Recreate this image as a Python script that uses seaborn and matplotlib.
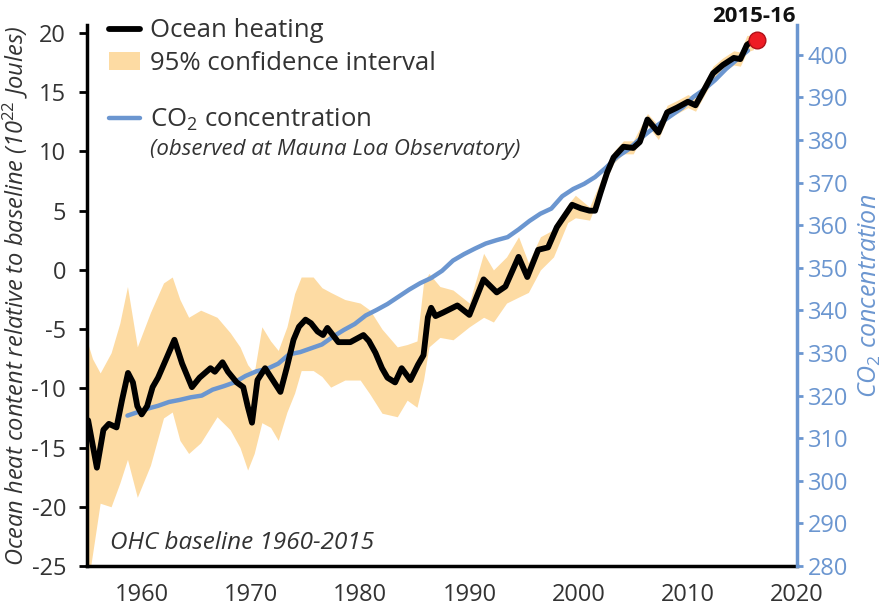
import matplotlib
matplotlib.use("Agg")
import matplotlib.pyplot as plt
import seaborn as sns
import pandas as pd
from matplotlib.lines import Line2D
from matplotlib.patches import Patch

sns.set_theme(style="white")
plt.rcParams['font.family'] = ['Open Sans', 'DejaVu Sans']
plt.rcParams['mathtext.fontset'] = 'custom'
plt.rcParams['mathtext.rm'] = 'Open Sans'
plt.rcParams['mathtext.it'] = 'Open Sans:italic'
plt.rcParams['axes.unicode_minus'] = False

# ocean heat content (10^22 J, relative to 1960-2015 baseline)
ohc_years = [1955.1, 1955.9, 1956.5, 1957.0, 1957.7, 1958.2, 1958.75, 1959.2, 1959.6, 1960.0,
             1960.5, 1961.0, 1961.5, 1962.3, 1963.0, 1963.7, 1964.6, 1965.3, 1966.3, 1966.7,
             1967.4, 1967.9, 1968.7, 1969.3, 1969.7, 1970.1, 1970.6, 1971.3, 1972.0, 1972.7,
             1973.3, 1973.9, 1974.4, 1975.0, 1975.5, 1976.1, 1976.6, 1977.0, 1978.0, 1979.1,
             1980.3, 1980.8, 1981.4, 1982.0, 1982.5, 1983.2, 1983.8, 1984.6, 1985.3, 1985.8,
             1986.2, 1986.5, 1986.9, 1987.6, 1988.9, 1990.0, 1991.3, 1992.5, 1993.3, 1994.5,
             1995.3, 1996.3, 1997.2, 1998.0, 1999.4, 2000.2, 2001.0, 2001.5, 2002.0, 2002.6,
             2003.2, 2004.1, 2005.0, 2005.6, 2006.3, 2007.3, 2008.1, 2009.0, 2010.0, 2010.7,
             2011.6, 2012.3, 2013.2, 2014.2, 2014.8, 2015.4, 2015.9]
ohc_values = [-12.7, -16.7, -13.5, -13.0, -13.3, -11.0, -8.7, -9.5, -11.5, -12.2,
              -11.5, -9.9, -9.1, -7.4, -5.9, -7.9, -9.9, -9.1, -8.3, -8.6,
              -7.8, -8.6, -9.5, -9.9, -11.5, -12.9, -9.3, -8.3, -9.3, -10.3,
              -8.2, -5.9, -4.8, -4.2, -4.5, -5.2, -5.5, -4.9, -6.1, -6.1,
              -5.5, -6.0, -7.0, -8.3, -9.1, -9.5, -8.3, -9.3, -8.0, -7.2,
              -4.0, -3.2, -3.9, -3.6, -3.0, -3.8, -0.8, -1.9, -1.4, 1.1,
              -0.6, 1.7, 1.9, 3.6, 5.5, 5.2, 5.0, 5.0, 6.5, 8.2,
              9.5, 10.4, 10.3, 10.8, 12.7, 11.6, 13.3, 13.7, 14.2, 13.9,
              15.4, 16.6, 17.3, 17.9, 17.8, 19.0, 19.3]

# 95% confidence interval
ci_years = [1955.0, 1955.5, 1956.2, 1957.2, 1958.0, 1958.7, 1959.6, 1960.8, 1962.0, 1962.8,
            1963.5, 1964.3, 1965.4, 1966.9, 1968.1, 1969.0, 1969.7, 1970.3, 1971.0, 1971.8,
            1972.5, 1973.3, 1974.0, 1974.6, 1975.7, 1976.5, 1977.3, 1978.6, 1980.0, 1980.9,
            1982.0, 1983.4, 1984.3, 1985.2, 1985.8, 1986.3, 1987.3, 1988.5, 1990.0, 1991.3,
            1992.2, 1993.4, 1994.5, 1995.4, 1996.5, 1997.7, 1999.0, 1999.7, 2001.0, 2002.0,
            2003.2, 2004.1, 2005.0, 2006.3, 2007.3, 2008.1, 2009.0, 2010.0, 2010.7, 2011.6,
            2012.3, 2013.2, 2014.2, 2014.8, 2015.4, 2016.0]
ci_lower = [-27.0, -24.0, -19.7, -20.0, -18.0, -16.0, -19.2, -16.5, -12.5, -12.0,
            -14.4, -15.5, -14.6, -12.4, -13.5, -15.0, -16.9, -15.5, -12.9, -13.3,
            -14.4, -12.0, -10.4, -8.5, -8.5, -9.0, -9.9, -9.3, -9.3, -10.5,
            -12.1, -12.4, -11.0, -11.6, -9.3, -6.5, -5.7, -5.9, -4.8, -4.0,
            -4.4, -2.8, -2.3, -1.9, 0.0, 1.1, 4.0, 4.4, 4.2, 6.5,
            9.0, 9.8, 9.8, 12.2, 11.0, 12.8, 13.2, 13.7, 13.4, 14.9,
            16.0, 16.7, 17.3, 17.2, 18.4, 18.6]
ci_upper = [-6.0, -7.5, -8.7, -7.0, -4.5, -1.4, -6.5, -3.6, -1.1, -0.6,
            -2.5, -4.0, -3.4, -4.0, -5.3, -6.5, -8.0, -8.7, -4.8, -6.0,
            -6.8, -4.8, -2.0, -0.6, -0.6, -1.5, -1.9, -2.5, -2.8, -3.4,
            -5.0, -6.5, -6.3, -6.0, -1.1, -0.3, -1.4, -1.7, -2.8, 1.4,
            0.0, 1.1, 2.8, 0.6, 2.8, 3.4, 5.5, 6.3, 5.3, 7.5,
            10.0, 10.9, 10.9, 13.2, 12.2, 13.9, 14.3, 14.8, 14.5, 16.0,
            17.2, 17.9, 18.5, 18.4, 19.8, 19.8]

# CO2 at Mauna Loa (ppm)
co2_years = [1958.7, 1959.5, 1960.5, 1961.5, 1962.5, 1963.5, 1964.5, 1965.5, 1966.5, 1967.5,
             1968.5, 1969.5, 1970.5, 1971.5, 1972.5, 1973.5, 1974.5, 1975.5, 1976.5, 1977.5,
             1978.5, 1979.5, 1980.5, 1981.5, 1982.5, 1983.5, 1984.5, 1985.5, 1986.5, 1987.5,
             1988.5, 1989.5, 1990.5, 1991.5, 1992.5, 1993.5, 1994.5, 1995.5, 1996.5, 1997.5,
             1998.5, 1999.5, 2000.5, 2001.5, 2002.5, 2003.5, 2004.5, 2005.5, 2006.5, 2007.5,
             2008.5, 2009.5, 2010.5, 2011.5, 2012.5, 2013.5, 2014.5, 2015.5]
co2_values = [315.3, 316.0, 316.9, 317.6, 318.5, 319.0, 319.6, 320.0, 321.4, 322.2,
              323.1, 324.6, 325.7, 326.3, 327.5, 329.7, 330.2, 331.1, 332.0, 333.8,
              335.4, 336.8, 338.8, 340.1, 341.5, 343.2, 344.9, 346.4, 347.6, 349.3,
              351.7, 353.2, 354.5, 355.7, 356.5, 357.2, 359.0, 361.0, 362.7, 363.9,
              366.8, 368.5, 369.7, 371.3, 373.5, 376.0, 377.7, 380.0, 382.1, 384.0,
              385.8, 387.6, 390.1, 391.9, 394.1, 396.7, 398.9, 401.0]

peak_year = 2016.3
peak_value = 19.4

x_ticks = [1960, 1970, 1980, 1990, 2000, 2010, 2020]
ohc_ticks = [-25, -20, -15, -10, -5, 0, 5, 10, 15, 20]
co2_ticks = list(range(280, 401, 10))

BLACK = '#000000'
BAND = '#FDDBA3'
BLUE = '#6B96D0'
TEXT = '#333333'

ohc_df = pd.DataFrame({'year': ohc_years, 'ohc': ohc_values})
co2_df = pd.DataFrame({'year': co2_years, 'co2': co2_values})

fig = plt.figure(figsize=(8.81, 6.08), dpi=100)
ax = fig.add_axes([0.0988, 0.0691, 0.806, 0.8898])
ax2 = ax.twinx()   # CO2 (right axis)
ax3 = ax.twinx()   # ocean heating line on top

# band
ax.fill_between(ci_years, ci_lower, ci_upper, color=BAND, linewidth=0)

# CO2
sns.lineplot(data=co2_df, x='year', y='co2', ax=ax2, color=BLUE, linewidth=3.2)

# ocean heating
sns.lineplot(data=ohc_df, x='year', y='ohc', ax=ax3, color=BLACK, linewidth=4.2)
ax3.plot([peak_year], [peak_value], 'o', color='#EE1C24', markeredgecolor='#B01018',
         markersize=12, markeredgewidth=1, clip_on=False, zorder=5)
ax3.annotate('2015-16', xy=(peak_year, peak_value), xytext=(-2, 17), textcoords='offset points',
             ha='center', va='center', fontsize=16, fontweight='bold', color='#111111',
             annotation_clip=False)

ohc_lim = (-25, 20.68)
ax.set_xlim(1955, 2020)
ax.set_ylim(*ohc_lim)
ax3.set_ylim(*ohc_lim)
ax2.set_ylim(280, 407)

# left axis
ax.set_xticks(x_ticks)
ax.set_yticks(ohc_ticks)
ax.set_xlabel('')
ax.set_ylabel('Ocean heat content relative to baseline (10$^{22}$ Joules)', fontsize=17,
              style='italic', color=TEXT, labelpad=1)
ax.tick_params(axis='both', labelsize=17, labelcolor=TEXT, color='black', length=6, width=2,
               direction='out', pad=6)
ax.tick_params(axis='y', pad=9)
ax.spines['left'].set_linewidth(2.5)
ax.spines['bottom'].set_linewidth(2.5)
ax.spines['left'].set_color('black')
ax.spines['bottom'].set_color('black')
for s in ('top', 'right'):
    ax.spines[s].set_visible(False)

# right axis
ax2.set_yticks(co2_ticks)
ax2.set_xlabel('')
ax2.set_ylabel('CO$_2$ concentration', fontsize=18, style='italic', color=BLUE, labelpad=6)
ax2.tick_params(axis='y', labelsize=17, colors=BLUE, length=4, width=2, direction='out')
for s in ('top', 'left', 'bottom'):
    ax2.spines[s].set_visible(False)
ax2.spines['right'].set_color(BLUE)
ax2.spines['right'].set_linewidth(2.5)

# overlay axis hidden (y only; x is shared)
ax3.set_xlabel('')
ax3.set_ylabel('')
ax3.yaxis.set_visible(False)
for s in ax3.spines.values():
    s.set_visible(False)

# legends
h1 = [Line2D([], [], color=BLACK, linewidth=4.2), Patch(facecolor=BAND, edgecolor='none')]
leg1 = ax3.legend(h1, ['Ocean heating', '95% confidence interval'], loc='upper left',
                  bbox_to_anchor=(0.031, 1.012), frameon=False, fontsize=18.5, handlelength=1.2,
                  handletextpad=0.4, labelspacing=0.3, borderaxespad=0, borderpad=0)
for t in leg1.get_texts():
    t.set_color(TEXT)
ax3.add_artist(leg1)
h2 = [Line2D([], [], color=BLUE, linewidth=3.2)]
leg2 = ax3.legend(h2, ['CO$_2$ concentration'], loc='upper left',
                  bbox_to_anchor=(0.031, 0.848), frameon=False, fontsize=18.5, handlelength=1.2,
                  handletextpad=0.4, borderaxespad=0, borderpad=0)
for t in leg2.get_texts():
    t.set_color(TEXT)
ax3.text(0.089, 0.769, '(observed at Mauna Loa Observatory)', transform=ax3.transAxes,
         fontsize=16, style='italic', color=TEXT, ha='left', va='center')

ax3.text(0.033, 0.043, 'OHC baseline 1960-2015', transform=ax3.transAxes,
         fontsize=17.5, style='italic', color=TEXT, ha='left', va='center')

fig.savefig('out.png', dpi=100)
